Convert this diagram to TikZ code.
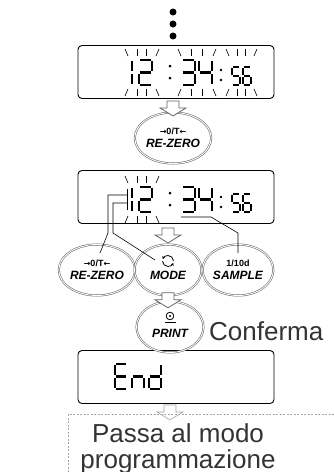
\documentclass[tikz,border=0pt]{standalone}
\usepackage{fontspec}
\setmainfont{Liberation Sans}
\newfontfamily\symfont{DejaVu Sans}
\usepackage{tikz}
\usetikzlibrary{positioning,calc,shapes.geometric,arrows.meta}

% small upright text on the keys
\newcommand{\keytop}{\fontsize{9}{10}\selectfont\upshape}
\newcommand{\zerotare}{{\symfont\bfseries\fontsize{8}{10}\selectfont →}0/T{\symfont\bfseries\fontsize{8}{10}\selectfont ←}}

% segments of the lcd characters
\newcommand{\digone}{tr/mr,mr/br}
\newcommand{\digtwo}{tl/tr,tr/mr,ml/mr,ml/bl,bl/br}
\newcommand{\digthree}{tl/tr,tr/mr,ml/mr,mr/br,bl/br}
\newcommand{\digfour}{tl/ml,ml/mr,tr/mr,mr/br}
\newcommand{\digfive}{tl/tr,tl/ml,ml/mr,mr/br,bl/br}
\newcommand{\digsix}{tl/tr,tl/ml,ml/mr,ml/bl,mr/br,bl/br}
\newcommand{\charE}{tl/tr,tl/ml,ml/mr,ml/bl,bl/br}
\newcommand{\charn}{ml/mr,ml/bl,mr/br}
\newcommand{\chard}{tr/mr,mr/br,ml/mr,ml/bl,bl/br}

% lcd character: [style]{x}{y}{width}{height}{segments}
\newcommand{\lcdchar}[6][]{%
	\coordinate (tl) at (#2,#3);
	\coordinate (tr) at ({#2+#4},#3);
	\coordinate (ml) at (#2,{#3+#5/2});
	\coordinate (mr) at ({#2+#4},{#3+#5/2});
	\coordinate (bl) at (#2,{#3+#5});
	\coordinate (br) at ({#2+#4},{#3+#5});
	\foreach \sa/\sb in #6 {\draw[lcdseg,#1] (\sa) -- (\sb);}
}

% blinking marks round a group of digits: {x left}{x right}{y top}{y bottom}
\newcommand{\lcdflash}[4]{%
	\foreach \k in {1,2} {
		\draw[flashline] ({#1+\k*(#2-#1)/3},{#3-11}) -- ({#1+\k*(#2-#1)/3},{#3-4});
		\draw[flashline] ({#1+\k*(#2-#1)/3},{#4+4}) -- ({#1+\k*(#2-#1)/3},{#4+11});
	}
	\draw[flashline] ({#1-3},{#3-11}) -- ({#1},{#3-4});
	\draw[flashline] ({#2+3},{#3-11}) -- ({#2},{#3-4});
	\draw[flashline] ({#1},{#4+4}) -- ({#1-3},{#4+11});
	\draw[flashline] ({#2},{#4+4}) -- ({#2+3},{#4+11});
}

\begin{document}
\begin{tikzpicture}[x=1pt,y=-1pt,
		display/.style={draw=black, line width=0.9pt, rounded corners=4pt, minimum width=196pt, minimum height=53pt, inner sep=0pt},
		button/.style={ellipse, draw=black!60, line width=0.55pt, double=white, double distance=0.9pt, minimum width=67pt, minimum height=51pt, inner sep=0pt, align=center, font=\fontsize{12}{13}\selectfont\bfseries\itshape},
		lcdseg/.style={line width=2.1pt, shorten <=1.3pt, shorten >=1.3pt},
		smallseg/.style={line width=1.7pt, shorten <=1pt, shorten >=1pt},
		flashline/.style={line width=0.6pt},
		link/.style={line width=0.6pt},
		arrline/.style={draw=black!60, fill=white, line width=0.8pt},
		bigtext/.style={font=\fontsize{26}{24}\selectfont, text=black!80, inner sep=0pt},
		dashframe/.style={draw=black!35, line width=0.5pt, dash pattern=on 2pt off 1.5pt},
		pics/downarr/.style={code={\draw[arrline] (-6,0) -- (6,0) -- (6,7) -- (13,7) -- (0,15) -- (-13,7) -- (-6,7) -- cycle;}},
	]
	\useasboundingbox (0,0) rectangle (334,472);

	%Dots
	\foreach \y in {12,24,36} \fill (173,\y) circle (3.5);

	%Displays
	\node[display] (disp1) at (176,72)  {};
	\node[display] (disp2) at (176,197) {};
	\node[display] (disp3) at (176,377) {};

	%Keys
	\node[button] (rz1)    at (173,138) {{\keytop\zerotare}\\RE-ZERO};
	\node[button] (rz2)    at (97,270)  {{\keytop\zerotare}\\RE-ZERO};
	\node[button] (mode)   at (168,270) {{\keytop\strut}\\MODE};
	\node[button] (sample) at (238,270) {{\keytop 1/10d}\\SAMPLE};
	\node[button] (print)  at (170,327) {{\keytop\strut}\\PRINT};

	%Key symbols
	\coordinate (modesym) at ($(mode.center)+(0,-9)$);
	\draw[line width=0.8pt, -{Stealth[length=2.8pt,width=3pt]}] ($(modesym)+(5.5,0)$) arc[start angle=0, end angle=-160, radius=5.5];
	\draw[line width=0.8pt, -{Stealth[length=2.8pt,width=3pt]}] ($(modesym)+(-5.5,0)$) arc[start angle=180, end angle=20, radius=5.5];
	\coordinate (printsym) at ($(print.center)+(0,-11)$);
	\draw[line width=0.8pt] (printsym) circle (3.8);
	\fill (printsym) circle (1.1);
	\draw[line width=1pt] ($(printsym)+(-5.5,6)$) -- ($(printsym)+(5.5,6)$);

	%Display 1: 12:34:56
	\lcdchar{119}{60}{13}{25}{\digone}
	\lcdchar{139}{60}{13}{25}{\digtwo}
	\fill (170,66) circle (1.5) (170,78) circle (1.5);
	\lcdchar{182}{60}{13}{25}{\digthree}
	\lcdchar{199}{60}{13}{25}{\digfour}
	\fill (221,70) circle (1.3) (221,80) circle (1.3);
	\lcdchar[smallseg]{232}{67}{8}{18}{\digfive}
	\lcdchar[smallseg]{243}{67}{8}{18}{\digsix}
	\lcdflash{128}{156}{60}{85}
	\lcdflash{181}{213}{60}{85}
	\lcdflash{229}{254}{60}{85}

	%Display 2: 12:34:56
	\lcdchar{119}{187}{13}{25}{\digone}
	\lcdchar{139}{187}{13}{25}{\digtwo}
	\fill (170,193) circle (1.5) (170,205) circle (1.5);
	\lcdchar{182}{187}{13}{25}{\digthree}
	\lcdchar{199}{187}{13}{25}{\digfour}
	\fill (221,197) circle (1.3) (221,207) circle (1.3);
	\lcdchar[smallseg]{232}{194}{8}{18}{\digfive}
	\lcdchar[smallseg]{243}{194}{8}{18}{\digsix}
	\lcdflash{128}{156}{187}{212}

	%Display 3: End
	\lcdchar{115}{364}{12}{25}{\charE}
	\lcdchar{132}{364}{12}{25}{\charn}
	\lcdchar{149}{364}{12}{25}{\chard}

	%Lines from display 2 to the keys
	\draw[link] (127,189) -- (127,210);
	\coordinate (brkA) at (127,195);
	\coordinate (brkB) at (127,203);
	\coordinate (ul) at (181,217);
	\draw[link] (brkA) -- (108,195) -- (108,233) -- ($(rz2.center)+(3,-17)$);
	\draw[link] (brkB) -- (113,203) -- (113,233) -- ($(mode.center)+(-13,-10)$);
	\draw[link] (ul) -- (211,217) -- (238,233) -- ($(sample.center)+(0,-17)$);

	%Arrows
	\pic at ($(disp1.south -| rz1.north)+(0,2)$) {downarr};
	\pic at ($(disp2.south -| mode.north)+(0,4)$) {downarr};
	\pic at ($(mode.south)+(0,-3)$) {downarr};
	\pic[arrline/.append style={draw=black!35, line width=0.6pt}] at ($(disp3.south -| print.south)+(0,1)$) {downarr};

	%Texts
	\node[bigtext, anchor=base west] (conf) at (209,340) {Conferma};
	\draw[dashframe] (68,472) -- (68,414) -- (334,414);
	\node[bigtext, anchor=base] (pass) at (178,442) {Passa al modo};
	\node[bigtext, anchor=base] (prog) at (178,468) {programmazione};

\end{tikzpicture}
\end{document}
